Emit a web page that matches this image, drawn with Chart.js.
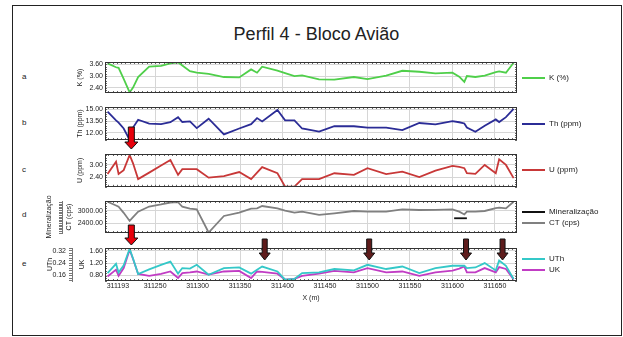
<!DOCTYPE html>
<html lang="pt">
  <head>
    <meta charset="UTF-8" />
    <title>Perfil 4 - Bloco Avião</title>
    <script src="https://cdnjs.cloudflare.com/ajax/libs/Chart.js/4.4.1/chart.umd.min.js"></script>
    <style>
      body { margin: 0; background: #fff; font-family: "Liberation Sans", Arial, sans-serif; color: #222; }
      #frame { position: absolute; left: 12px; top: 5px; width: 608px; height: 329px; border: 1px solid #222; }
      #title { position: absolute; left: 5px; width: 623px; top: 24px; line-height: 20px; text-align: center; font-size: 18px; }
      .tag { position: absolute; left: 22px; font-size: 8px; line-height: 10px; }
      canvas { position: absolute; left: 0; }
    </style>
  </head>
  <body>
    <div id="frame"></div>
    <div id="title">Perfil 4 - Bloco Avião</div>
    <div class="tag" style="top: 72px">a</div>
    <div class="tag" style="top: 118px">b</div>
    <div class="tag" style="top: 165px">c</div>
    <div class="tag" style="top: 210px">d</div>
    <div class="tag" style="top: 259px">e</div>

    <canvas id="pa" width="623" height="50" style="top: 50px"></canvas>
    <canvas id="pb" width="623" height="56" style="top: 98px"></canvas>
    <canvas id="pc" width="623" height="47" style="top: 146px"></canvas>
    <canvas id="pd" width="623" height="56" style="top: 192px"></canvas>
    <canvas id="pe" width="623" height="80" style="top: 228px"></canvas>

    <script>
      // stations along the profile (X, m)
      const stations = [311194, 311204, 311207, 311213, 311220, 311224, 311230, 311243, 311257, 311268,
        311277, 311282, 311291, 311299, 311313, 311331, 311349, 311363, 311370, 311376,
        311394, 311403, 311414, 311423, 311443, 311461, 311484, 311500, 311522, 311541,
        311561, 311580, 311600, 311608, 311614, 311617, 311627, 311638, 311651, 311655,
        311663, 311672];

      const kValues = [3.65, 3.45, 3.42, 2.85, 2.16, 2.41, 2.95, 3.48, 3.52, 3.65,
        3.70, 3.54, 3.25, 3.18, 3.11, 2.95, 2.93, 3.34, 3.17, 3.48,
        3.28, 3.15, 3.00, 3.03, 2.83, 2.82, 2.95, 2.84, 3.02, 3.27,
        3.22, 3.14, 3.17, 2.97, 2.70, 3.00, 2.95, 3.02, 3.20, 3.24,
        3.17, 3.68];

      const thValues = [14.70, 13.60, 13.30, 12.55, 11.10, 12.67, 13.67, 13.17, 13.10, 13.35,
        14.00, 13.38, 13.46, 12.60, 13.80, 11.80, 12.55, 13.10, 13.88, 13.46,
        14.92, 13.59, 13.60, 12.55, 12.15, 12.84, 12.84, 12.67, 12.67, 12.34,
        13.25, 13.09, 13.50, 13.35, 13.20, 12.67, 12.13, 12.90, 13.71, 13.38,
        14.00, 15.05];

      const uValues = [2.55, 3.16, 2.55, 2.74, 3.49, 3.08, 2.30, 2.62, 2.97, 3.24,
        2.51, 2.79, 2.79, 2.79, 2.37, 2.45, 2.65, 2.30, 2.62, 2.89,
        2.59, 1.93, 1.93, 2.30, 2.30, 2.59, 2.51, 2.84, 2.55, 2.67,
        2.40, 2.72, 2.95, 2.90, 2.84, 2.59, 2.56, 3.00, 2.59, 3.28,
        3.00, 2.35];

      const ctValues = [3425, 3250, 3189, 2900, 2513, 2690, 2953, 3200, 3300, 3390,
        3411, 3189, 3100, 3060, 1961, 2750, 2905, 3100, 3111, 3222,
        3111, 3000, 2905, 2953, 2797, 2877, 2986, 2953, 2953, 3064,
        3033, 3040, 3064, 2953, 2820, 2953, 2960, 2986, 3120, 3142,
        3111, 3425];

      const uthValues = [0.176, 0.235, 0.180, 0.226, 0.332, 0.270, 0.170, 0.200, 0.229, 0.250,
        0.172, 0.208, 0.205, 0.229, 0.165, 0.208, 0.212, 0.172, 0.197, 0.218,
        0.186, 0.133, 0.138, 0.176, 0.180, 0.202, 0.193, 0.229, 0.202, 0.218,
        0.176, 0.208, 0.223, 0.223, 0.223, 0.208, 0.212, 0.240, 0.193, 0.257,
        0.223, 0.138];

      const ukValues = [0.77, 0.99, 0.79, 1.04, 1.63, 1.33, 0.85, 0.79, 0.85, 0.93,
        0.72, 0.88, 0.90, 0.93, 0.83, 0.93, 0.95, 0.72, 0.93, 0.92,
        0.86, 0.67, 0.69, 0.79, 0.86, 0.95, 0.90, 1.04, 0.90, 0.93,
        0.79, 0.90, 0.96, 1.02, 1.09, 0.90, 0.90, 1.04, 0.90, 1.07,
        1.01, 0.67];

      const mineralX = [311602, 311617];
      const mineralValues = [2640, 2640];

      const xTickValues = [311193, 311250, 311300, 311350, 311400, 311450, 311500, 311550, 311600, 311650];
      const kTicks = [2.4, 3.0, 3.6];
      const thTicks = [12, 13.5, 15];
      const uTicks = [2.4, 3.0];
      const ctTicks = [2400, 3000];
      const uthTicks = [0.16, 0.24, 0.32];
      const ukTicks = [0.8, 1.2, 1.6];

      const redArrowX = [311222];
      const markArrowX = [311379, 311502, 311616, 311659];

      const X_MIN = 311191;
      const X_MAX = 311676;
      const GRID = "#d6d6d6";

      Chart.defaults.font.family = '"Liberation Sans", Arial, sans-serif';
      Chart.defaults.font.size = 7;
      Chart.defaults.color = "#222";

      function pts(values) {
        return stations.map((x, i) => ({ x: x, y: values[i] }));
      }

      function line(label, data, color, axis) {
        return {
          label: label,
          data: data,
          borderColor: color,
          backgroundColor: color,
          borderWidth: 1.8,
          pointRadius: 0,
          yAxisID: axis || "y",
        };
      }

      function xAxis(bottom) {
        const ticks = bottom ? xTickValues.concat([X_MAX]) : xTickValues;
        return {
          type: "linear",
          min: X_MIN,
          max: X_MAX,
          afterBuildTicks: (s) => { s.ticks = ticks.map((v) => ({ value: v })); },
          afterFit: (s) => { s.height = bottom ? 27 : 0; },
          grid: {
            color: (c) => (c.tick && (c.tick.value === xTickValues[0] || c.tick.value === X_MAX) ? "rgba(0,0,0,0)" : GRID),
            drawTicks: false,
          },
          border: { display: false },
          ticks: {
            display: bottom,
            align: "inner",
            padding: 1,
            autoSkip: false,
            maxRotation: 0,
            callback: (v) => (v === X_MAX ? "" : String(v)),
          },
          title: { display: bottom, text: "X (m)", padding: { top: 0, bottom: 6 } },
        };
      }

      function yAxis(title, min, max, tickValues, width, titlePad) {
        return {
          position: "left",
          min: min,
          max: max,
          weight: 0,
          afterBuildTicks: (s) => { s.ticks = tickValues.map((v) => ({ value: v })); },
          afterFit: (s) => { s.width = width; },
          grid: { color: GRID, drawTicks: false },
          border: { display: false },
          ticks: { padding: 2, autoSkip: false, callback: (v) => v.toFixed(2) },
          title: { display: true, text: title, padding: { top: titlePad || 0, bottom: 0 } },
        };
      }

      // outer axis drawn as a small ruler
      function rulerAxis(title, min, max, labelValues, step, width) {
        return {
          position: "left",
          min: min,
          max: max,
          weight: 1,
          afterBuildTicks: (s) => {
            const t = [];
            for (let v = Math.ceil(min / step) * step; v <= max; v += step) t.push({ value: v });
            s.ticks = t;
          },
          afterFit: (s) => { s.width = width; },
          grid: { drawOnChartArea: false, drawTicks: true, tickLength: 3, color: "#777" },
          border: { display: true, color: "#777" },
          ticks: {
            padding: 3,
            autoSkip: false,
            callback: (v) => (labelValues.some((l) => Math.abs(l - v) < 1e-6) ? v.toFixed(2) : ""),
          },
          title: { display: true, text: title, padding: 0 },
        };
      }

      const framePlugin = {
        id: "frame",
        afterDatasetsDraw(chart, args, opts) {
          const { ctx, chartArea: a } = chart;
          const x = chart.scales.x;
          const y = chart.scales[opts.axis];
          ctx.save();
          ctx.strokeStyle = "#666";
          ctx.lineWidth = 1;
          ctx.beginPath();
          for (let v = Math.ceil(X_MIN / 5) * 5; v < X_MAX; v += 5) {
            const px = Math.round(x.getPixelForValue(v)) + 0.5;
            ctx.moveTo(px, a.top);
            ctx.lineTo(px, a.top + 2);
            ctx.moveTo(px, a.bottom);
            ctx.lineTo(px, a.bottom - 2);
          }
          for (let v = Math.ceil(y.min / opts.step) * opts.step; v < y.max; v += opts.step) {
            const py = Math.round(y.getPixelForValue(v)) + 0.5;
            ctx.moveTo(a.left, py);
            ctx.lineTo(a.left + 2, py);
            ctx.moveTo(a.right, py);
            ctx.lineTo(a.right - 2, py);
          }
          ctx.stroke();
          ctx.strokeStyle = "#333";
          ctx.strokeRect(Math.round(a.left) + 0.5, Math.round(a.top) + 0.5, Math.round(a.width) - 1, Math.round(a.height) - 1);
          ctx.restore();
        },
      };

      const sideLegend = {
        id: "sideLegend",
        afterDraw(chart) {
          const { ctx, chartArea: a } = chart;
          const items = chart.data.datasets;
          const gap = 11;
          const top = (a.top + a.bottom) / 2 - ((items.length - 1) * gap) / 2;
          ctx.save();
          ctx.font = '8px "Liberation Sans", Arial, sans-serif';
          ctx.textBaseline = "middle";
          items.forEach((d, i) => {
            const y = Math.round(top + i * gap);
            ctx.strokeStyle = d.borderColor;
            ctx.lineWidth = 2;
            ctx.beginPath();
            ctx.moveTo(a.right + 5, y);
            ctx.lineTo(a.right + 28, y);
            ctx.stroke();
            ctx.fillStyle = "#222";
            ctx.fillText(d.label, a.right + 32, y);
          });
          ctx.restore();
        },
      };

      const arrowPlugin = {
        id: "arrows",
        afterDraw(chart, args, o) {
          if (!o.xs) return;
          const { ctx, chartArea: a } = chart;
          const x = chart.scales.x;
          ctx.save();
          o.xs.forEach((v) => {
            const cx = x.getPixelForValue(v);
            const y0 = a[o.edge] + o.from;
            const y1 = a[o.edge] + o.to;
            const sw = o.shaft / 2, hw = o.head / 2, hh = 7;
            ctx.beginPath();
            ctx.moveTo(cx - sw, y0);
            ctx.lineTo(cx + sw, y0);
            ctx.lineTo(cx + sw, y1 - hh);
            ctx.lineTo(cx + hw, y1 - hh);
            ctx.lineTo(cx, y1);
            ctx.lineTo(cx - hw, y1 - hh);
            ctx.lineTo(cx - sw, y1 - hh);
            ctx.closePath();
            ctx.fillStyle = o.color;
            ctx.fill();
            ctx.strokeStyle = "#111";
            ctx.lineWidth = 1;
            ctx.stroke();
          });
          ctx.restore();
        },
      };

      function panel(id, pad, datasets, scales, frame, arrows) {
        return new Chart(document.getElementById(id), {
          type: "line",
          data: { datasets: datasets },
          options: {
            responsive: false,
            animation: false,
            layout: { padding: { left: pad[0], top: pad[1], right: 106, bottom: pad[2] } },
            scales: Object.assign({ x: xAxis(id === "pe") }, scales),
            plugins: {
              legend: { display: false },
              tooltip: { enabled: false },
              frame: frame,
              arrows: arrows || {},
            },
          },
          plugins: [framePlugin, sideLegend, arrowPlugin],
        });
      }

      panel("pa", [76, 12, 7],
        [line("K (%)", pts(kValues), "#4fcf4a")],
        { y: yAxis("K (%)", 2.13, 3.72, kTicks, 29) },
        { axis: "y", step: 0.12 });

      panel("pb", [76, 9, 14],
        [line("Th (ppm)", pts(thValues), "#2b2c96")],
        { y: yAxis("Th (ppm)", 11.08, 15.3, thTicks, 29) },
        { axis: "y", step: 0.3 },
        { xs: redArrowX, edge: "bottom", from: -13, to: 9, shaft: 6, head: 13, color: "#e8000b" });

      panel("pc", [76, 8, 6],
        [line("U (ppm)", pts(uValues), "#c83838")],
        { y: yAxis("U (ppm)", 1.92, 3.54, uTicks, 29) },
        { axis: "y", step: 0.12 });

      panel("pd", [45, 9, 15],
        [
          line("Mineralização", mineralX.map((x, i) => ({ x: x, y: mineralValues[i] })), "#111"),
          line("CT (cps)", pts(ctValues), "#808080"),
        ],
        {
          yM: rulerAxis("Mineralização", 0, 1, [], 0.05, 17),
          y: yAxis("CT (cps)", 1938, 3462, ctTicks, 43, 3),
        },
        { axis: "y", step: 120 },
        { xs: redArrowX, edge: "bottom", from: -8, to: 12, shaft: 6, head: 13, color: "#e8000b" });

      panel("pe", [46, 20, 0],
        [
          line("UTh", pts(uthValues), "#34c8c8", "y"),
          line("UK", pts(ukValues), "#c13cc4", "yK"),
        ],
        {
          y: rulerAxis("UTh", 0.1248, 0.3372, uthTicks, 0.016, 26),
          yK: yAxis("UK", 0.624, 1.686, ukTicks, 33, 6),
        },
        { axis: "yK", step: 0.08 },
        { xs: markArrowX, edge: "top", from: -9, to: 12, shaft: 5, head: 11, color: "#5e1c1c" });
    </script>
  </body>
</html>
